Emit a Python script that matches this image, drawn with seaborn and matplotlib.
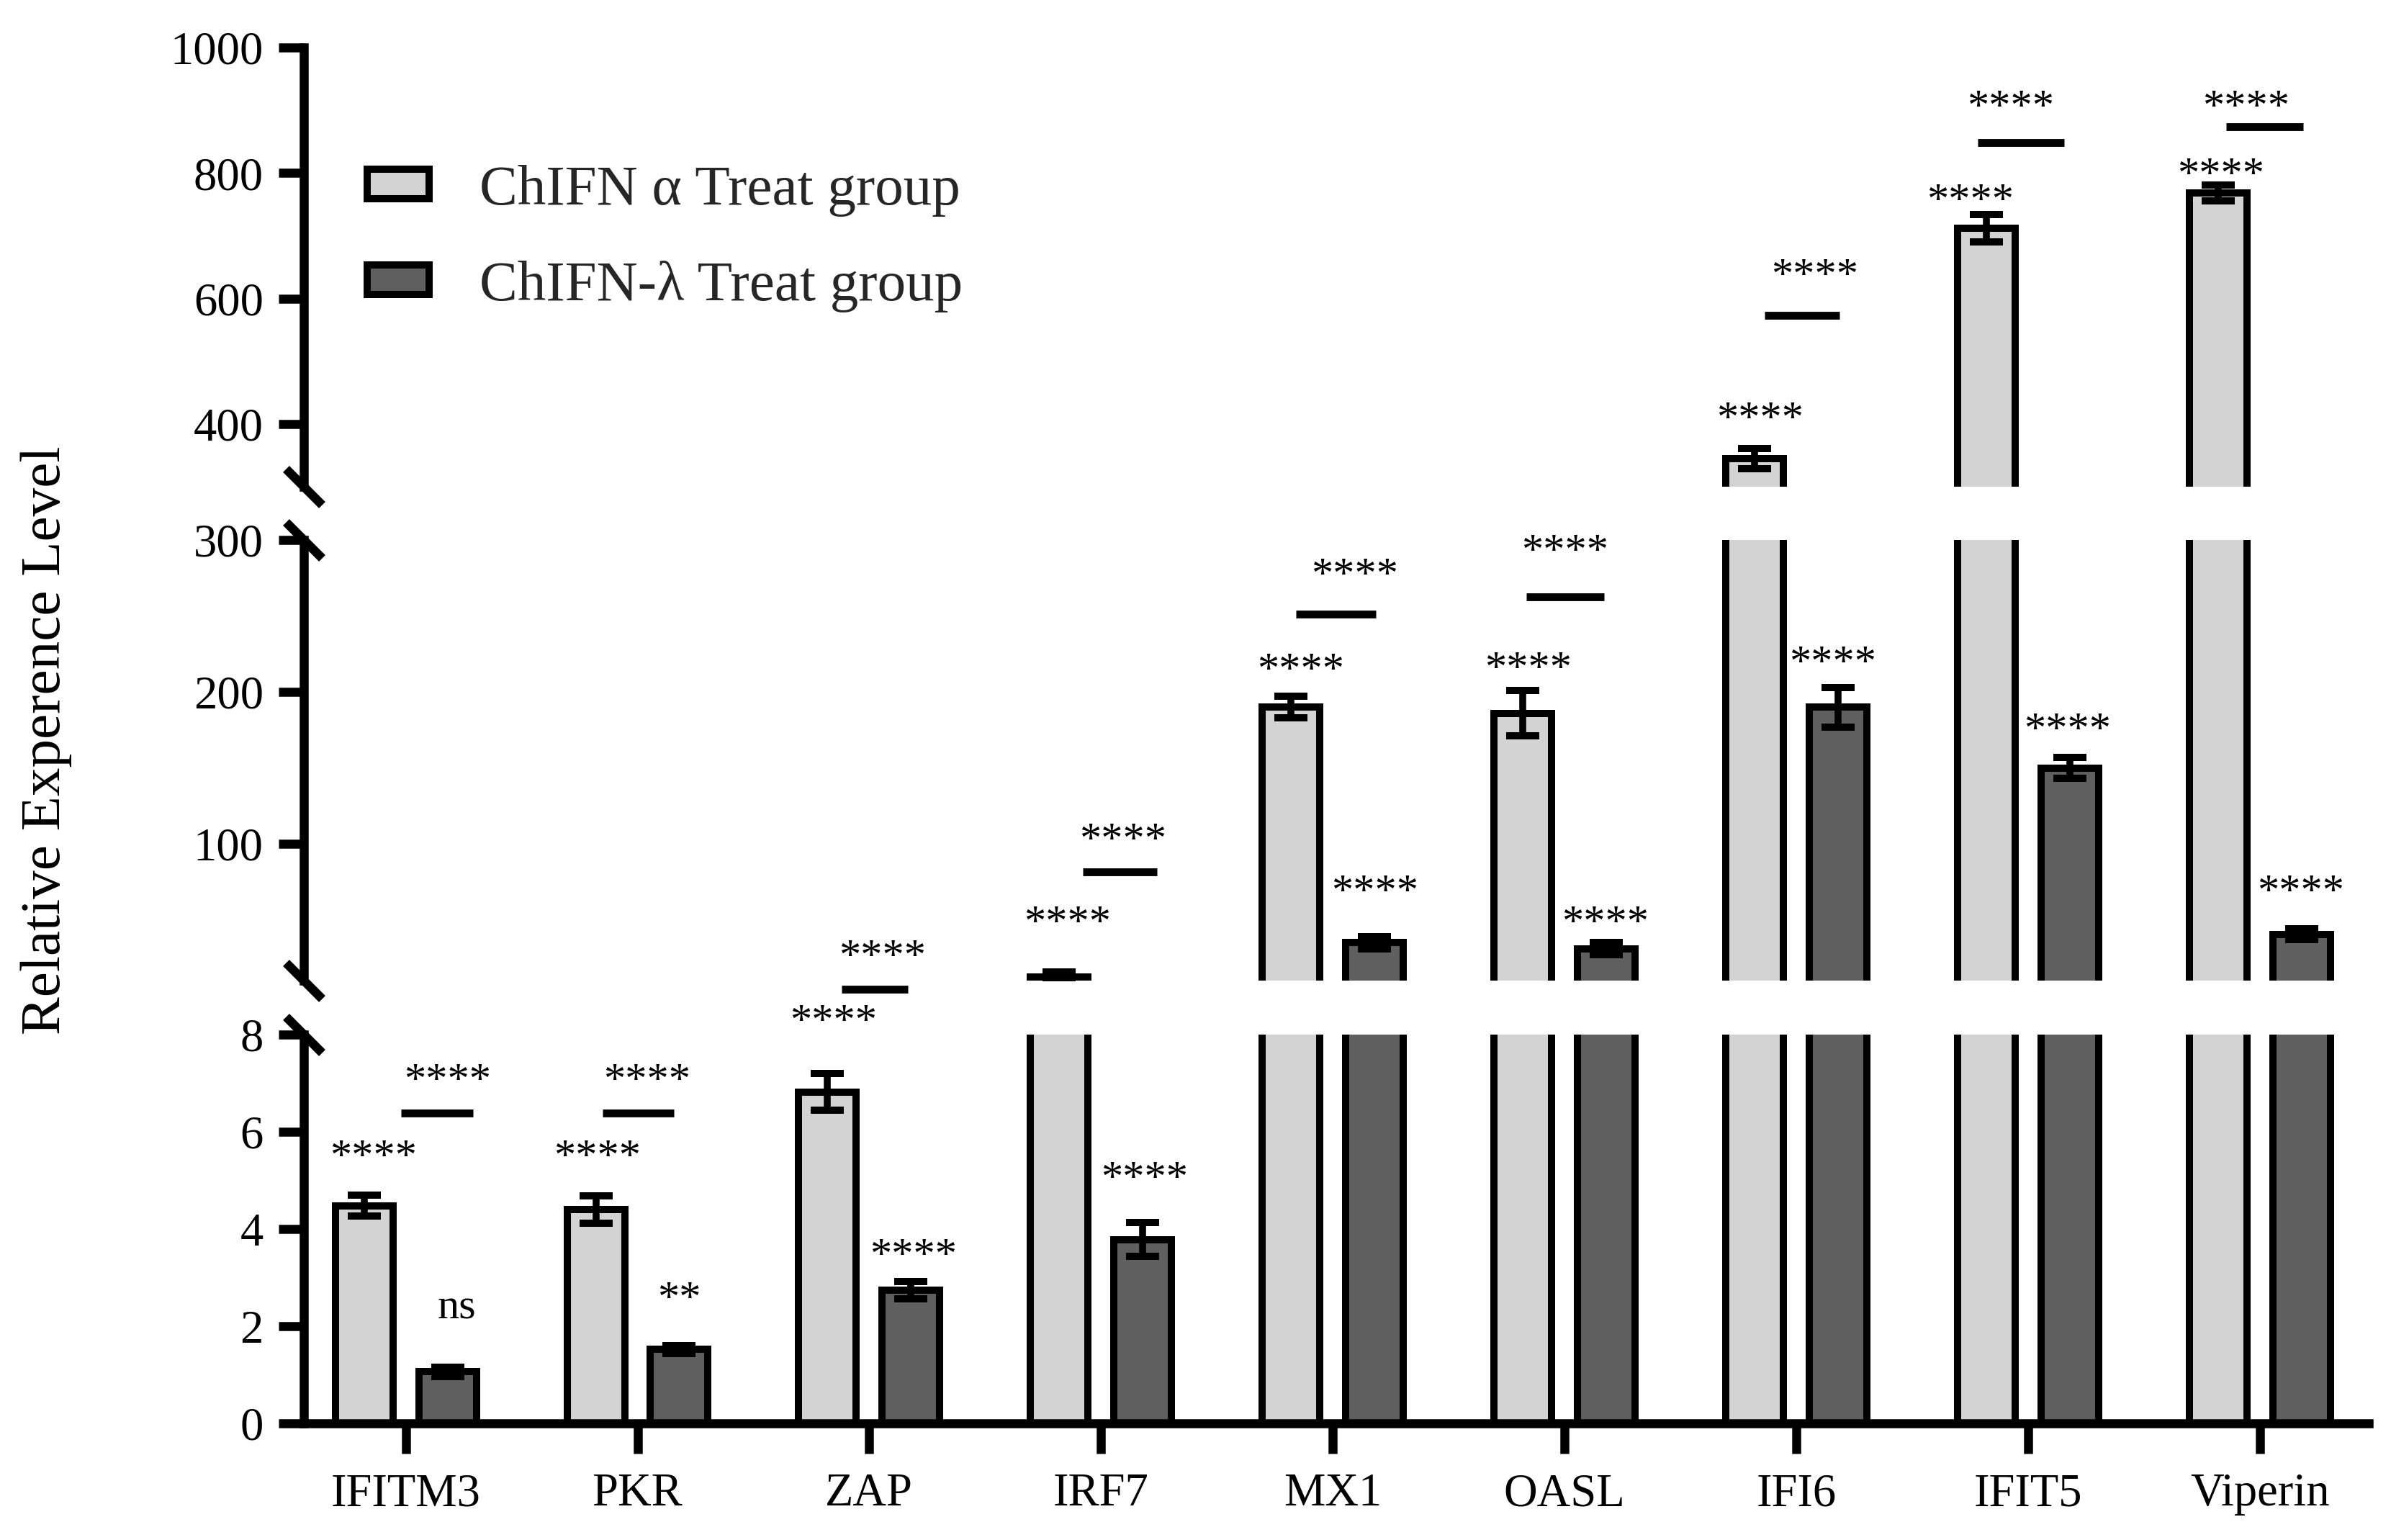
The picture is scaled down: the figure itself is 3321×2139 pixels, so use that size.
import numpy as np
import pandas as pd
import matplotlib
matplotlib.use("Agg")
import matplotlib.pyplot as plt
import seaborn as sns
from matplotlib.patches import Patch

# ---------------- data ----------------
categories = ["IFITM3", "PKR", "ZAP", "IRF7", "MX1", "OASL", "IFI6", "IFIT5", "Viperin"]
groups = ["ChIFN \u03b1 Treat group", "ChIFN-\u03bb Treat group"]
alpha_mean = [4.48, 4.40, 6.82, 12.5, 190, 186, 345, 712, 768]
alpha_err = [0.22, 0.28, 0.38, 3.0, 7, 15, 16, 22, 13]
lambda_mean = [1.06, 1.52, 2.74, 3.78, 35, 31, 190, 150, 40.5]
lambda_err = [0.10, 0.08, 0.18, 0.35, 4, 4, 13, 7, 3.5]
alpha_sig = ["****"] * 9
pair_sig = ["****"] * 9
lambda_sig = ["ns", "**", "****", "****", "****", "****", "****", "****", "****"]

# annotation layout: (panel, x offset from category centre, y in that panel's units)
alpha_sig_pos = [("bot", -0.14, 5.24), ("bot", -0.174, 5.24), ("bot", -0.155, 8.03),
                 ("mid", -0.146, 40.3), ("mid", -0.14, 206.8), ("mid", -0.158, 207.4),
                 ("top", -0.158, 389.9), ("top", -0.248, 737.2), ("top", -0.168, 778.9)]
pair_line_pos = [("bot", -0.02, 0.29, 6.39), ("bot", -0.152, 0.158, 6.39), ("bot", -0.12, 0.165, 8.93),
                 ("mid", -0.078, 0.24, 81.6), ("mid", -0.158, 0.186, 251.0), ("mid", -0.166, 0.171, 262.6),
                 ("top", -0.135, 0.186, 573.6), ("top", -0.217, 0.155, 849.0), ("top", -0.146, 0.186, 873.8)]
pair_sig_pos = [("bot", 0.18, 6.81), ("bot", 0.04, 6.81), ("bot", 0.057, 9.36),
                ("mid", 0.093, 94.8), ("mid", 0.093, 269.2), ("mid", 0.003, 284.9),
                ("top", 0.081, 618.2), ("top", -0.075, 886.9), ("top", -0.059, 886.9)]
lambda_sig_pos = [("bot", 0.22, 2.15), ("bot", 0.18, 2.32), ("bot", 0.19, 3.21),
                  ("bot", 0.186, 4.8), ("mid", 0.18, 60.9), ("mid", 0.174, 40.4),
                  ("mid", 0.158, 211.4), ("mid", 0.171, 167.3), ("mid", 0.177, 60.9)]

light = "#d3d3d3"
dark = "#5f5f5f"

df = pd.DataFrame({
    "gene": categories * 2,
    "group": [groups[0]] * len(categories) + [groups[1]] * len(categories),
    "value": alpha_mean + lambda_mean,
})
errs = [alpha_err, lambda_err]
means = [alpha_mean, lambda_mean]

sns.set_theme(style="white")
plt.rcParams["font.family"] = ["Liberation Serif", "DejaVu Serif"]

W_PX, H_PX = 3321, 2139
fig = plt.figure(figsize=(W_PX / 300, H_PX / 300), dpi=300)
L = 422 / W_PX
Wd = 2868 / W_PX


def frac(y0, y1):
    return [L, 1 - y1 / H_PX, Wd, (y1 - y0) / H_PX]


ax_top = fig.add_axes(frac(66, 676))
ax_mid = fig.add_axes(frac(750, 1362))
ax_bot = fig.add_axes(frac(1437, 1977))
panels = {"top": ax_top, "mid": ax_mid, "bot": ax_bot}
lims = {"top": (300, 1000), "mid": (10, 300), "bot": (0, 8)}
ticks = {"top": [400, 600, 800, 1000], "mid": [100, 200, 300], "bot": [0, 2, 4, 6, 8]}

for name, ax in panels.items():
    sns.barplot(data=df, x="gene", y="value", hue="group", order=categories,
                hue_order=groups, palette=[light, dark], width=0.72, gap=0.31,
                edgecolor="black", linewidth=2.4, errorbar=None, ax=ax,
                legend=False, saturation=1)
    bar_conts = list(ax.containers)
    for k, cont in enumerate(bar_conts):
        xs = [p.get_x() + p.get_width() / 2 for p in cont.patches]
        ax.errorbar(xs, means[k], yerr=errs[k], fmt="none", ecolor="black",
                    elinewidth=2.3, capsize=5.5, capthick=2.4, zorder=4)
    ax.set_xlim(-0.44, 8.47)
    ax.set_ylim(*lims[name])
    ax.set_yticks(ticks[name])
    ax.set_xlabel("")
    ax.set_ylabel("")
    for s in ["top", "right", "bottom"]:
        ax.spines[s].set_visible(False)
    ax.spines["left"].set_linewidth(3)
    ax.spines["left"].set_color("black")
    ax.tick_params(axis="y", direction="out", length=8.5, width=3, pad=5,
                   labelsize=15.5, colors="black", left=True)
    if name != "bot":
        ax.tick_params(axis="x", bottom=False, labelbottom=False)
    ax.patch.set_alpha(0)

ax_bot.spines["bottom"].set_visible(True)
ax_bot.spines["bottom"].set_linewidth(3)
ax_bot.spines["bottom"].set_color("black")
ax_bot.tick_params(axis="x", direction="out", length=10, width=3, pad=6.5,
                   labelsize=15.5, colors="black", bottom=True)

# break marks
bk = dict(marker=[(-1, 1), (1, -1)], markersize=12, linestyle="none",
          color="black", mec="black", mew=3, clip_on=False)
ax_top.plot([0], [0], transform=ax_top.transAxes, **bk)
ax_mid.plot([0], [1], transform=ax_mid.transAxes, **bk)
ax_mid.plot([0], [0], transform=ax_mid.transAxes, **bk)
ax_bot.plot([0], [1], transform=ax_bot.transAxes, **bk)

# significance annotations
fs_sig = 14.5
for i, cat in enumerate(categories):
    p, dx, y = alpha_sig_pos[i]
    panels[p].text(i + dx, y, alpha_sig[i], ha="center", va="baseline",
                   fontsize=fs_sig, color="black", clip_on=False)
    p, x0, x1, y = pair_line_pos[i]
    panels[p].plot([i + x0, i + x1], [y, y], color="black", lw=2.6,
                   solid_capstyle="butt", clip_on=False)
    p, dx, y = pair_sig_pos[i]
    panels[p].text(i + dx, y, pair_sig[i], ha="center", va="baseline",
                   fontsize=fs_sig, color="black", clip_on=False)
    p, dx, y = lambda_sig_pos[i]
    panels[p].text(i + dx, y, lambda_sig[i], ha="center", va="baseline",
                   fontsize=fs_sig, color="black", clip_on=False)

# legend
handles = [Patch(facecolor=light, edgecolor="black", linewidth=2.4),
           Patch(facecolor=dark, edgecolor="black", linewidth=2.4)]
fig.legend(handles, groups, loc="upper left", bbox_to_anchor=(510 / W_PX, 1 - 229 / H_PX),
           frameon=False, fontsize=19, handlelength=1.09, handleheight=0.42,
           handletextpad=0.88, labelspacing=0.77, borderpad=0, borderaxespad=0)

fig.text(64 / W_PX, 1 - 1028 / H_PX, "Relative Experence Level", rotation=90,
         ha="center", va="center", fontsize=19, color="black")

fig.savefig("out.png", dpi=300, facecolor="white")
